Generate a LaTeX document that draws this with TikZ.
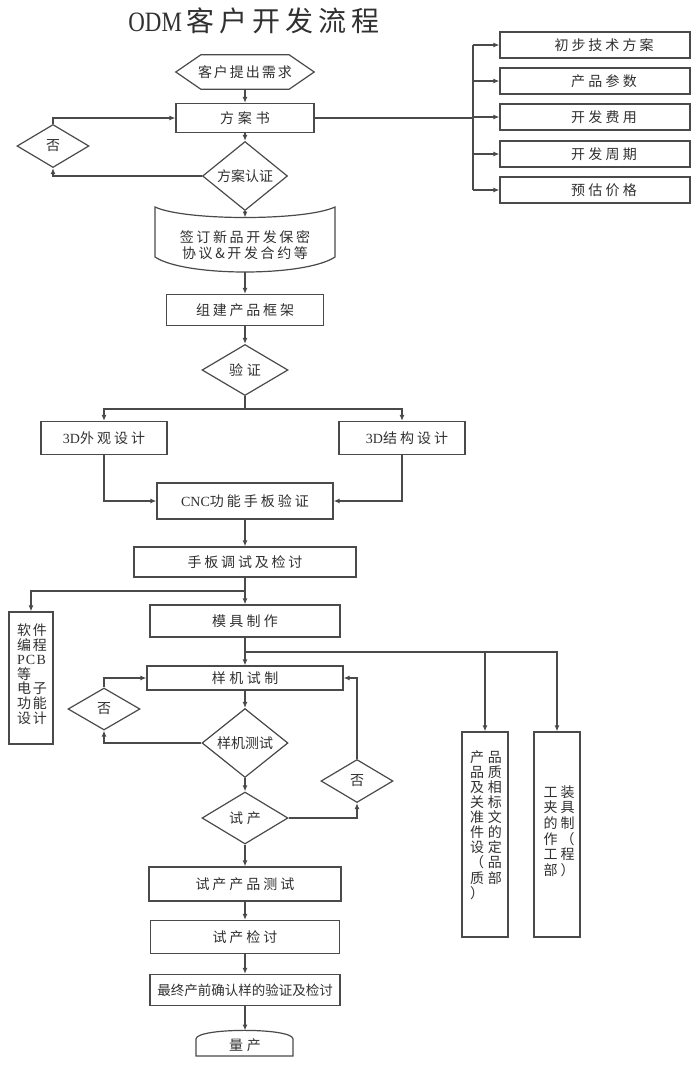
\documentclass[tikz,border=0pt]{standalone}
\usepackage{graphicx}
\usepackage{fontspec}
\setmainfont{Noto Sans CJK SC}
\newfontfamily\lat{Liberation Serif}
\usetikzlibrary{arrows.meta,shapes.geometric,calc}
\definecolor{lc}{HTML}{4A4A4A}
\definecolor{tc}{HTML}{303030}
\makeatletter
\def\lsp@end{\lsp@end}
\newcommand\lsp[2][3pt]{\def\lsp@amt{#1}\lsp@loop#2\lsp@end}
\def\lsp@loop#1{\ifx#1\lsp@end\unskip\else#1\hspace{\lsp@amt}\expandafter\lsp@loop\fi}
\makeatother
\newcommand\fs{\fontsize{14}{15.2}\selectfont}
\begin{document}
\begin{tikzpicture}[x=1pt,y=-1pt,
  ln/.style={draw=lc,line width=1.2pt},
  arr/.style={ln,-{Latex[length=6pt,width=5pt]}},
  box/.style={draw=lc,line width=1.2pt,rectangle,inner sep=0pt,text=tc,font=\fs},
  dia/.style={draw=lc,line width=1.2pt,diamond,inner sep=0pt,text=tc,font=\fs},
  txt/.style={inner sep=0pt,text=tc,font=\fs},
]
\useasboundingbox (0,0) rectangle (700,1066);

% title
\node[txt,font=\fontsize{28}{30}\selectfont] (title) at (254,21)
  {\scalebox{0.82}[1]{\lat ODM}\,\lsp[5pt]{客户开发流程}};

% customer request (hexagon)
\node[txt,minimum width=138pt,minimum height=34pt] (req) at (245,72) {\lsp[2pt]{客户提出需求}};
\draw[ln] (req.west) -- ([xshift=25pt]req.north west) -- ([xshift=-25pt]req.north east)
  -- (req.east) -- ([xshift=-25pt]req.south east) -- ([xshift=25pt]req.south west) -- cycle;

\node[box,minimum width=138pt,minimum height=29pt] (plan) at (245,118) {\lsp[4pt]{方案书}};
\node[dia,minimum width=85pt,minimum height=48pt] (conf) at (245,176) {方案认证};
\node[dia,minimum width=72pt,minimum height=43pt] (no1) at (53,146) {否};

% right list
\node[box,minimum width=190pt,minimum height=26pt] (r1) at (595,45) {\hspace*{18pt}\lsp[3pt]{初步技术方案}};
\node[box,minimum width=190pt,minimum height=26pt] (r2) at (595,81) {\hspace*{18pt}\lsp[3.3pt]{产品参数}};
\node[box,minimum width=190pt,minimum height=26pt] (r3) at (595,117) {\hspace*{18pt}\lsp[3.3pt]{开发费用}};
\node[box,minimum width=190pt,minimum height=26pt] (r4) at (595,154) {\hspace*{18pt}\lsp[3.3pt]{开发周期}};
\node[box,minimum width=190pt,minimum height=26pt] (r5) at (595,190) {\hspace*{18pt}\lsp[3.3pt]{预估价格}};
\coordinate (bus) at (473,118);

% signing document
\draw[ln] (155,207) .. controls (185,221) and (305,221) .. (335,207) -- (335,257)
  .. controls (305,277) and (185,277) .. (155,257) -- cycle;
\coordinate (sgtop) at (245,217.5);
\coordinate (sgbot) at (245,272);
\node[txt,align=center,font=\fontsize{14}{16}\selectfont] (sign) at (245,245)
  {\lsp[2.6pt]{签订新品开发保密}\\\lsp[2.6pt]{协议\&开发合约等}};

\node[box,minimum width=157pt,minimum height=31pt] (frame) at (245,310) {\lsp[2.8pt]{组建产品框架}};
\node[dia,minimum width=86pt,minimum height=51pt] (ver) at (245,370) {\lsp[4pt]{验证}};
\coordinate (sp) at (245,409);

\node[box,minimum width=126pt,minimum height=33pt] (d3a) at (104,438) {{\lat 3D}\lsp[3pt]{外观设计}};
\node[box,minimum width=126pt,minimum height=33pt] (d3b) at (402,438) {\hspace*{10pt}{\lat 3D}\lsp[3pt]{结构设计}};
\node[box,minimum width=176pt,minimum height=36pt] (cnc) at (245,501) {{\lat CNC}\lsp[3pt]{功能手板验证}};
\node[box,minimum width=222pt,minimum height=30pt] (hand) at (245,562) {\lsp[2.8pt]{手板调试及检讨}};
\coordinate (jn) at (245,591);
\node[box,minimum width=190pt,minimum height=32pt] (mold) at (245,621) {\lsp[3.3pt]{模具制作}};
\coordinate (jn2) at (245,652);

% software box
\node[box,minimum width=44pt,minimum height=132pt] (soft) at (31,678) {};
\node[txt,align=left,font=\fontsize{14}{14.6}\selectfont] (softt) at (32,674)
  {\lsp[2pt]{软件}\\\lsp[2pt]{编程}\\{\lat\lsp[1.2pt]{PCB}}\\等\\\lsp[2pt]{电子}\\\lsp[2pt]{功能}\\\lsp[2pt]{设计}};

\node[box,minimum width=196pt,minimum height=24pt] (proto) at (245,678) {\lsp[3.5pt]{样机试制}};
\node[dia,minimum width=86pt,minimum height=50pt] (test) at (245,743) {样机测试};
\node[dia,minimum width=72pt,minimum height=42pt] (no2) at (104,709) {否};
\node[dia,minimum width=86pt,minimum height=52pt] (trial) at (245,818) {\lsp[4pt]{试产}};
\node[dia,minimum width=72pt,minimum height=43pt] (no3) at (357,781) {否};

% tall boxes
\node[box,minimum width=46pt,minimum height=205pt] (q1) at (485,834.5) {};
\node[txt,align=left,font=\fontsize{14}{15.1}\selectfont] (q1t) at (486,825)
  {\lsp[4pt]{产品}\\\lsp[4pt]{品质}\\\lsp[4pt]{及相}\\\lsp[4pt]{关标}\\\lsp[4pt]{准文}\\\lsp[4pt]{件的}\\\lsp[4pt]{设定}\\\lsp[4pt]{（品}\\\lsp[4pt]{质部}\\）};
\node[box,minimum width=46pt,minimum height=205pt] (q2) at (557,834.5) {};
\node[txt,align=left,font=\fontsize{14}{15.6}\selectfont] (q2t) at (559,831)
  {\lsp[3pt]{工装}\\\lsp[3pt]{夹具}\\\lsp[3pt]{的制}\\\lsp[3pt]{作（}\\\lsp[3pt]{工程}\\\lsp[3pt]{部）}};

\node[box,minimum width=192pt,minimum height=34pt] (ttest) at (245,884) {\lsp[3pt]{试产产品测试}};
\node[box,minimum width=189pt,minimum height=33pt] (trev) at (245,937) {\lsp[3pt]{试产检讨}};
\node[box,minimum width=190pt,minimum height=31pt,font=\fontsize{13.5}{15}\selectfont] (final) at (245,990) {最终产前确认样的验证及检讨};

% mass production
\draw[ln] (196,1056) -- (196,1039) .. controls (196,1027.5) and (293,1027.5) .. (293,1039) -- (293,1056) -- cycle;
\coordinate (mtop) at (245,1030.5);
\node[txt] (mass) at (245,1045) {\lsp[4pt]{量产}};

% connectors
\draw[arr] (req.south) -- (plan.north);
\draw[arr] (plan.south) -- (conf.north);
\draw[arr] (conf.west) -| (no1.south);
\draw[arr] (no1.north) |- (plan.west);
\draw[ln] (plan.east) -- (bus);
\draw[ln] (bus |- r1.west) -- (bus |- r5.west);
\foreach \r in {r1,r2,r3,r4,r5}{\draw[arr] (bus |- \r.west) -- (\r.west);}
\draw[arr] (conf.south) -- (sgtop);
\draw[arr] (sgbot) -- (frame.north);
\draw[arr] (frame.south) -- (ver.north);
\draw[ln] (ver.south) -- (sp);
\draw[arr] (sp) -| (d3a.north);
\draw[arr] (sp) -| (d3b.north);
\draw[arr] (d3a.south) |- (cnc.west);
\draw[arr] (d3b.south) |- (cnc.east);
\draw[arr] (cnc.south) -- (hand.north);
\draw[ln] (hand.south) -- (jn);
\draw[arr] (jn) -- (mold.north);
\draw[arr] (jn) -| (soft.north);
\draw[arr] (mold.south) -- (proto.north);
\draw[arr] (jn2) -| (q1.north);
\draw[arr] (jn2) -| (q2.north);
\draw[arr] (proto.south) -- (test.north);
\draw[arr] (test.west) -| (no2.south);
\draw[arr] (no2.north) |- (proto.west);
\draw[arr] (test.south) -- (trial.north);
\draw[arr] (trial.east) -| (no3.south);
\draw[arr] (no3.north) |- (proto.east);
\draw[arr] (trial.south) -- (ttest.north);
\draw[arr] (ttest.south) -- (trev.north);
\draw[arr] (trev.south) -- (final.north);
\draw[arr] (final.south) -- (mtop);
\end{tikzpicture}
\end{document}
